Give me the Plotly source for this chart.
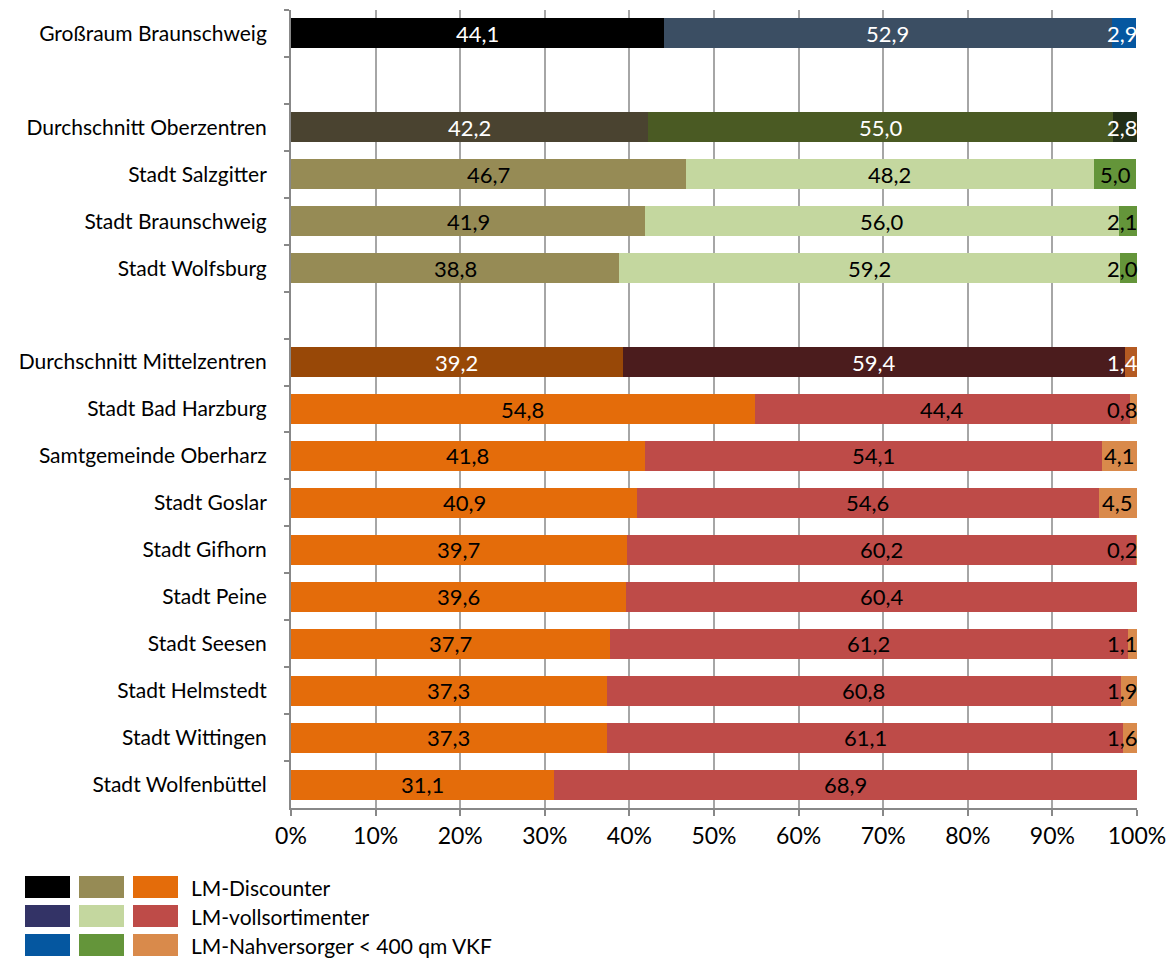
import plotly.graph_objects as go

# Kategorien von oben nach unten (Leerzeilen trennen die Gruppen)
categories = [
    "Großraum Braunschweig", " ",
    "Durchschnitt Oberzentren", "Stadt Salzgitter", "Stadt Braunschweig", "Stadt Wolfsburg", "  ",
    "Durchschnitt Mittelzentren", "Stadt Bad Harzburg", "Samtgemeinde Oberharz", "Stadt Goslar",
    "Stadt Gifhorn", "Stadt Peine", "Stadt Seesen", "Stadt Helmstedt", "Stadt Wittingen",
    "Stadt Wolfenbüttel",
]
discounter = [44.1, None, 42.2, 46.7, 41.9, 38.8, None, 39.2, 54.8, 41.8, 40.9, 39.7, 39.6, 37.7, 37.3, 37.3, 31.1]
vollsortimenter = [52.9, None, 55.0, 48.2, 56.0, 59.2, None, 59.4, 44.4, 54.1, 54.6, 60.2, 60.4, 61.2, 60.8, 61.1, 68.9]
nahversorger = [2.9, None, 2.8, 5.0, 2.1, 2.0, None, 1.4, 0.8, 4.1, 4.5, 0.2, 0.0, 1.1, 1.9, 1.6, 0.0]

series_names = ["LM-Discounter", "LM-vollsortimenter", "LM-Nahversorger < 400 qm VKF"]
x_ticks = list(range(0, 101, 10))

# Farbschema je Gruppe: (Discounter, Vollsortimenter, Nahversorger, Textfarbe)
scheme = {
    "gross": ("#000000", "#3B4E63", "#0557A0", "white"),
    "oz_avg": ("#4A4330", "#4A5A23", "#232F17", "white"),
    "oz": ("#968B55", "#C4D79F", "#64953A", "black"),
    "mz_avg": ("#984807", "#4B1C1D", "#B45A22", "white"),
    "mz": ("#E46C0A", "#BE4B48", "#D98A4B", "black"),
    "gap": ("#FFFFFF", "#FFFFFF", "#FFFFFF", "black"),
}
groups = ["gross", "gap", "oz_avg", "oz", "oz", "oz", "gap", "mz_avg",
          "mz", "mz", "mz", "mz", "mz", "mz", "mz", "mz", "mz"]

FONT = "Lato, 'Open Sans', sans-serif"
LABEL_HALF = 1.9  # halbe Beschriftungsbreite in Prozentpunkten

fig = go.Figure()
values = [discounter, vollsortimenter, nahversorger]
for i, (name, vals) in enumerate(zip(series_names, values)):
    fig.add_trace(go.Bar(
        y=categories, x=vals, name=name, orientation="h",
        marker=dict(color=[scheme[g][i] for g in groups], line=dict(width=0)),
        hoverinfo="skip", showlegend=False,
    ))

# Wertbeschriftungen mittig im Segment, am rechten Rand innerhalb der Achse gehalten
for r, cat in enumerate(categories):
    start = 0.0
    for i in range(3):
        v = values[i][r]
        if v is None:
            continue
        if v > 0:
            center = start + v / 2
            at_edge = center + LABEL_HALF > 100
            fig.add_annotation(
                x=100 if at_edge else center, y=cat, xref="x", yref="y",
                xanchor="right" if at_edge else "center", xshift=3 if at_edge else 0,
                text=f"{v:.1f}".replace(".", ","), showarrow=False,
                font=dict(family=FONT, size=22, color=scheme[groups[r]][3]),
            )
        start += v

fig.update_layout(
    width=1171, height=960,
    margin=dict(l=291, r=34, t=10, b=152),
    paper_bgcolor="white", plot_bgcolor="white",
    barmode="stack", bargap=0.36,
    font=dict(family=FONT, size=21, color="black"),
)
fig.update_xaxes(
    range=[0, 100], tickvals=x_ticks, ticktext=[f"{t}%" for t in x_ticks],
    showgrid=True, gridcolor="#A6A6A6", gridwidth=1.5,
    showline=True, linecolor="#888888", linewidth=2,
    ticks="outside", ticklen=6, tickcolor="#888888", tickwidth=2,
    tickfont=dict(size=23), ticklabelstandoff=0, zeroline=False,
    automargin=False, fixedrange=True,
)
fig.update_yaxes(
    type="category", categoryorder="array", categoryarray=categories,
    autorange="reversed", tickson="boundaries",
    ticks="outside", ticklen=5, tickcolor="#888888", tickwidth=2,
    showgrid=False, showline=True, linecolor="#888888", linewidth=2,
    tickfont=dict(size=21), ticklabelstandoff=18,
    automargin=False, fixedrange=True,
)

# Legende: drei Farbfelder je Reihe (Großraum, Oberzentren, Mittelzentren)
plot_top, plot_bottom = 10, 808
def py(px):
    return (plot_bottom - px) / (plot_bottom - plot_top)
def pxx(px):
    return (px - 291) / (1137 - 291)

legend_cols = [("gross", 25), ("oz", 79), ("mz", 133)]
legend_rows = [876, 905, 934]
legend_colors = {
    "gross": ("#000000", "#333366", "#0557A0"),
    "oz": ("#968B55", "#C4D79F", "#64953A"),
    "mz": ("#E46C0A", "#BE4B48", "#D98A4B"),
}
for gname, x0 in legend_cols:
    for i, y0 in enumerate(legend_rows):
        fig.add_shape(
            type="rect", xref="paper", yref="paper",
            x0=pxx(x0), x1=pxx(x0 + 45), y0=py(y0 + 22), y1=py(y0),
            fillcolor=legend_colors[gname][i], line=dict(width=0),
        )
for i, y0 in enumerate(legend_rows):
    fig.add_annotation(
        x=pxx(189), y=py(y0 + 11), xref="paper", yref="paper",
        text=series_names[i], showarrow=False, xanchor="left", yanchor="middle",
        font=dict(family=FONT, size=21, color="black"),
    )

fig.write_html("out.html")
